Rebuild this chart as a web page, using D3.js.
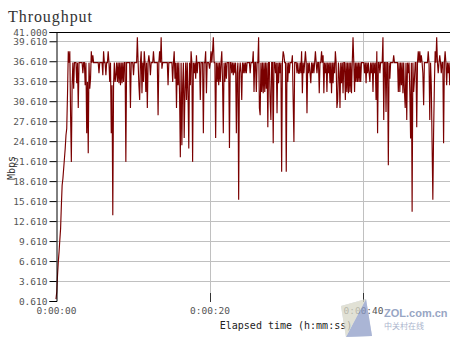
<!DOCTYPE html>
<html><head><meta charset="utf-8">
<script src="https://cdn.jsdelivr.net/npm/d3@7/dist/d3.min.js"></script>
<style>body{margin:0;background:#fff;} svg{display:block}</style>
</head><body>
<svg id="c" width="450" height="337"></svg>
<script>
const title = "Throughput";
const yAxisTitle = "Mbps";
const xAxisTitle = "Elapsed time (h:mm:ss)";
const sampleInterval = 0.1; // seconds between samples
// one row = 2 seconds of samples
const throughput = [
 0.9, 2.0, 4.5, 6.5, 8.0, 9.8, 11.5, 15.0, 18.0, 19.0, 20.5, 22.0, 23.5, 25.5, 26.5, 31.7, 38.1, 36.4, 38.1, 28.5,
 21.5, 33.0, 36.4, 32.5, 36.4, 36.4, 36.4, 33.3, 36.4, 29.6, 36.4, 36.4, 36.4, 36.4, 36.4, 34.8, 36.4, 36.4, 33.0, 36.4,
 25.8, 33.5, 22.8, 36.4, 32.5, 34.0, 38.1, 36.4, 37.5, 36.4, 36.4, 36.4, 36.4, 36.4, 36.4, 36.4, 34.8, 36.4, 36.4, 36.4,
 36.4, 34.5, 38.1, 36.4, 36.4, 34.5, 36.4, 36.4, 38.1, 36.4, 33.5, 36.4, 25.8, 33.0, 13.5, 33.0, 36.4, 33.5, 34.5, 36.4,
 33.5, 36.4, 33.3, 36.4, 33.0, 36.4, 33.3, 36.4, 33.5, 36.4, 36.4, 21.5, 36.4, 36.4, 36.4, 36.4, 36.4, 29.6, 36.4, 36.4,
 36.4, 34.5, 36.4, 36.4, 36.4, 36.4, 40.2, 36.4, 33.0, 30.8, 36.4, 38.1, 31.8, 36.4, 33.5, 38.1, 36.4, 32.0, 36.4, 29.6,
 36.4, 37.5, 36.4, 34.5, 36.4, 36.4, 36.4, 38.1, 36.4, 36.4, 36.4, 36.4, 36.4, 28.5, 36.4, 38.1, 36.4, 40.2, 35.5, 36.4,
 36.4, 36.4, 36.4, 36.4, 36.4, 36.4, 33.0, 36.4, 36.4, 36.4, 36.4, 36.4, 33.5, 36.4, 38.1, 34.0, 36.4, 29.6, 36.4, 33.0,
 36.4, 31.5, 22.2, 36.4, 24.0, 33.0, 36.4, 25.1, 32.0, 36.4, 30.8, 36.4, 32.0, 23.5, 36.4, 33.0, 38.1, 36.4, 21.5, 36.4,
 34.8, 36.4, 34.0, 37.5, 34.8, 36.4, 36.4, 36.4, 30.8, 36.4, 36.4, 36.4, 25.8, 36.4, 36.4, 38.1, 31.8, 36.4, 36.4, 36.4,
 35.5, 36.4, 38.1, 36.4, 38.1, 40.2, 36.4, 36.4, 25.1, 36.4, 33.5, 36.4, 33.0, 36.4, 33.5, 36.4, 38.1, 33.5, 25.8, 36.4,
 33.5, 36.4, 34.0, 36.4, 36.4, 36.4, 23.6, 36.4, 36.4, 34.8, 36.4, 34.5, 36.4, 34.8, 36.4, 25.8, 34.8, 36.4, 15.8, 34.8,
 36.4, 34.8, 30.8, 36.4, 34.8, 36.4, 34.8, 36.4, 34.8, 36.4, 36.4, 36.4, 36.4, 34.8, 36.4, 36.4, 36.4, 38.1, 32.0, 36.4,
 36.4, 32.0, 36.4, 36.4, 40.2, 29.6, 28.5, 36.4, 32.0, 36.4, 31.8, 36.4, 32.0, 36.4, 32.5, 36.4, 26.7, 36.4, 36.4, 30.8,
 27.8, 36.4, 36.4, 24.3, 36.4, 36.4, 34.8, 36.4, 28.8, 36.4, 33.3, 36.4, 34.8, 36.4, 20.0, 36.4, 38.1, 37.5, 36.4, 36.4,
 20.0, 36.4, 33.5, 36.4, 34.8, 36.4, 36.4, 36.4, 37.5, 30.8, 24.5, 36.4, 36.4, 36.4, 34.8, 36.4, 34.8, 34.8, 36.4, 34.8,
 38.1, 31.8, 36.4, 34.8, 36.4, 38.1, 36.4, 28.8, 36.4, 34.8, 36.4, 34.8, 33.3, 36.4, 34.8, 36.4, 34.8, 36.4, 38.1, 36.4,
 34.8, 36.4, 36.4, 31.8, 36.4, 36.4, 38.1, 36.4, 37.5, 31.8, 36.4, 34.8, 36.4, 32.0, 36.4, 34.8, 36.4, 33.3, 36.4, 31.8,
 36.4, 33.3, 36.4, 34.8, 38.1, 36.4, 29.6, 30.8, 36.4, 34.8, 29.6, 36.4, 33.3, 36.4, 31.8, 36.4, 36.4, 30.8, 36.4, 32.0,
 36.4, 31.8, 36.4, 32.0, 36.4, 31.8, 36.4, 40.2, 36.4, 32.0, 36.4, 33.5, 36.4, 33.5, 36.4, 33.5, 36.4, 33.5, 36.4, 36.4,
 36.4, 36.4, 34.8, 36.4, 33.3, 36.4, 34.8, 36.4, 34.8, 33.5, 36.4, 34.8, 36.4, 32.0, 36.4, 34.8, 36.4, 30.8, 38.1, 25.8,
 36.4, 36.4, 34.8, 36.4, 36.4, 36.4, 40.2, 27.8, 36.4, 36.4, 29.0, 36.4, 36.4, 21.0, 36.4, 34.0, 36.4, 36.4, 36.4, 36.4,
 37.5, 36.4, 36.4, 36.4, 36.4, 36.4, 32.0, 36.4, 32.0, 36.4, 33.0, 36.4, 31.8, 36.4, 32.0, 29.6, 36.4, 27.8, 36.4, 34.8,
 36.4, 32.0, 25.0, 36.4, 14.0, 36.4, 32.0, 33.8, 36.4, 36.4, 26.7, 36.4, 38.1, 36.4, 38.1, 36.4, 37.5, 36.4, 34.8, 30.0,
 36.4, 36.4, 36.4, 36.4, 36.4, 38.1, 36.4, 27.8, 36.4, 33.0, 24.3, 15.8, 26.0, 33.0, 38.1, 36.4, 40.2, 36.4, 34.8, 36.4,
 37.5, 36.4, 34.8, 36.4, 36.4, 24.3, 36.4, 38.1, 36.4, 33.0, 36.4, 34.8, 36.4, 33.0, 36.4
];
const yTickValues = [0.61, 3.61, 6.61, 9.61, 12.61, 15.61, 18.61, 21.61, 24.61, 27.61, 30.61, 33.61, 36.61, 39.61, 41];
const yTickLabels = ["0.610","3.610","6.610","9.610","12.610","15.610","18.610","21.610","24.610","27.610","30.610","33.610","36.610","39.610","41.000"];
const xTickValues = [0, 20, 40];
const xTickLabels = ["0:00:00","0:00:20","0:00:40"];

const svg = d3.select("#c");
const x = d3.scaleLinear().domain([0, 60]).range([56, 516.5]);
const y = d3.scaleLinear().domain([0.61, 41]).range([301, 32]);
const mono = "'DejaVu Sans Mono', monospace";

// horizontal gridlines
svg.append("g").selectAll("line")
  .data(yTickValues.filter(v => v > 1 && v < 41))
  .join("line")
  .attr("x1", 56).attr("x2", 450)
  .attr("y1", d => Math.round(y(d)) + 0.5).attr("y2", d => Math.round(y(d)) + 0.5)
  .attr("stroke", "#c0c0c0").attr("stroke-width", 1);
// vertical gridlines
svg.append("g").selectAll("line")
  .data(xTickValues.filter(v => v > 0))
  .join("line")
  .attr("x1", d => Math.round(x(d)) + 0.5).attr("x2", d => Math.round(x(d)) + 0.5)
  .attr("y1", 32).attr("y2", 301)
  .attr("stroke", "#c0c0c0").attr("stroke-width", 1);

// data line
const line = d3.line()
  .x((d, i) => x(i * sampleInterval))
  .y(d => y(d));
svg.append("path")
  .datum(throughput)
  .attr("d", line)
  .attr("fill", "none")
  .attr("stroke", "#7a0000")
  .attr("stroke-width", 1.15)
  .attr("stroke-linejoin", "miter")
  .attr("stroke-miterlimit", 2);

// frame: top border and left axis
svg.append("line").attr("x1", 56).attr("x2", 450).attr("y1", 32.5).attr("y2", 32.5)
  .attr("stroke", "#000").attr("stroke-width", 1);

const yAxis = d3.axisLeft(y).tickValues(yTickValues)
  .tickFormat((d, i) => yTickLabels[i]).tickSize(7).tickPadding(2);
const gy = svg.append("g").attr("transform", "translate(56.5,0)").call(yAxis);
gy.select(".domain").attr("stroke", "#000");
gy.selectAll(".tick line").attr("stroke", "#000");
gy.selectAll("text").attr("font-family", mono).attr("font-size", 9.5).attr("fill", "#555");

const xAxis = d3.axisBottom(x).tickValues(xTickValues)
  .tickFormat((d, i) => xTickLabels[i]).tickSize(0).tickPadding(6);
const gx = svg.append("g").attr("transform", "translate(0,301)").call(xAxis);
gx.select(".domain").remove();
gx.selectAll("text").attr("font-family", mono).attr("font-size", 9.5).attr("fill", "#555");
// x tick marks
svg.append("g").selectAll("line")
  .data(xTickValues.filter(v => v > 0))
  .join("line")
  .attr("x1", d => Math.round(x(d)) + 0.5).attr("x2", d => Math.round(x(d)) + 0.5)
  .attr("y1", 293).attr("y2", 302)
  .attr("stroke", "#333").attr("stroke-width", 1);

// titles
svg.append("text").attr("x", 8).attr("y", 22).text(title)
  .attr("font-family", "'Liberation Serif', serif").attr("font-size", 16)
  .attr("fill", "#333").attr("textLength", 84).attr("lengthAdjust", "spacing");
svg.append("text").attr("transform", "translate(15,168) rotate(-90)")
  .attr("text-anchor", "middle").text(yAxisTitle)
  .attr("font-family", mono).attr("font-size", 10).attr("fill", "#333");
svg.append("text").attr("x", 286).attr("y", 329).attr("text-anchor", "middle").text(xAxisTitle)
  .attr("font-family", mono).attr("font-size", 10).attr("fill", "#222");

// watermark
const wm = svg.append("g").attr("opacity", 0.75);
wm.append("polygon").attr("points", "341,306 366,299 372,336 346,337").attr("fill", "#c4cde0");
wm.append("polygon").attr("points", "346,337 366,299 372,336").attr("fill", "#8e9dc8");
wm.append("polygon").attr("points", "341,306 366,299 346,337").attr("fill", "#d8d8c8");
svg.append("text").attr("x", 384).attr("y", 317).text("ZOL.com.cn")
  .attr("font-family", "'Liberation Sans', Arial, sans-serif").attr("font-size", 11).attr("font-weight", "bold")
  .attr("fill", "#98a6c4");
svg.append("text").attr("x", 384).attr("y", 329).text("中关村在线")
  .attr("font-family", "'Noto Sans CJK SC', sans-serif").attr("font-size", 8)
  .attr("fill", "#aab4cc");
</script>
</body></html>
